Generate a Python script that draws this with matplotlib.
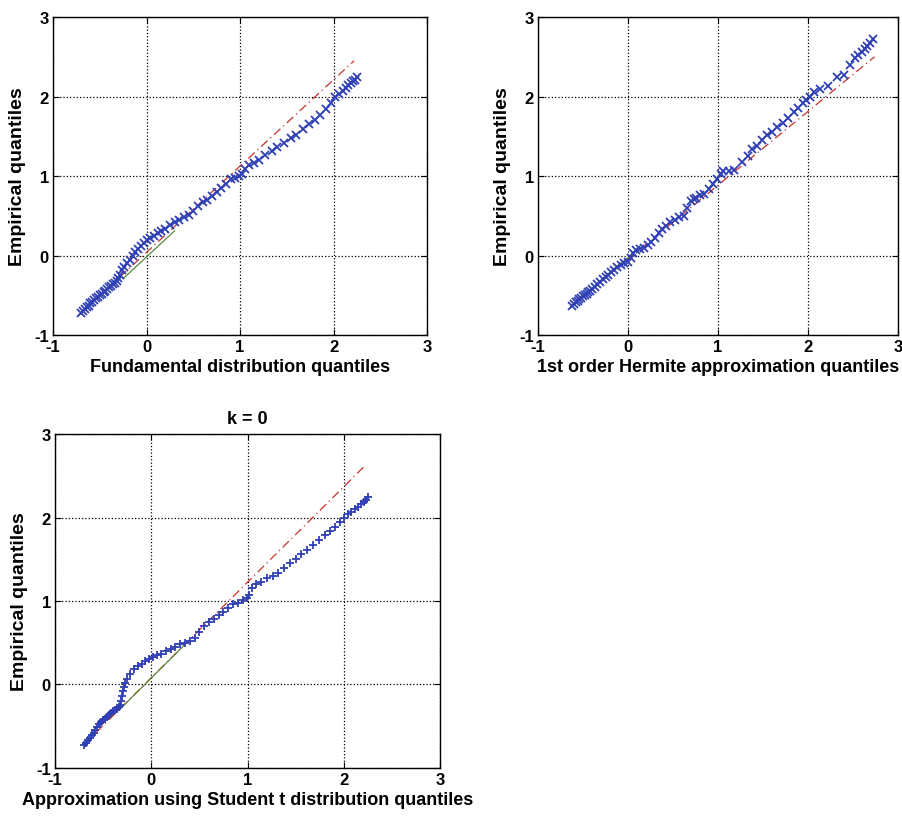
import matplotlib
matplotlib.use("Agg")
import matplotlib.pyplot as plt

plt.rcParams['font.family'] = ['Liberation Sans', 'DejaVu Sans']
plt.rcParams['font.weight'] = 'bold'
plt.rcParams['axes.unicode_minus'] = False

# panel 1: fundamental distribution
fund_x = [-0.70, -0.68, -0.66, -0.64, -0.62, -0.60, -0.58, -0.56, -0.54, -0.52, -0.50,
          -0.48, -0.46, -0.44, -0.42, -0.40, -0.38, -0.36, -0.34, -0.32, -0.30, -0.28,
          -0.26, -0.24, -0.21, -0.18, -0.15, -0.12, -0.09, -0.06, -0.03, 0.00, 0.04,
          0.08, 0.12, 0.16, 0.20, 0.25, 0.30, 0.35, 0.40, 0.45, 0.50, 0.55, 0.60, 0.65,
          0.70, 0.75, 0.80, 0.85, 0.90, 0.95, 0.99, 1.02, 1.05, 1.10, 1.15, 1.20, 1.27,
          1.34, 1.40, 1.47, 1.54, 1.60, 1.67, 1.74, 1.80, 1.86, 1.92, 1.97, 2.02, 2.06,
          2.10, 2.13, 2.16, 2.19, 2.21, 2.23, 2.25]
fund_y = [-0.72, -0.70, -0.67, -0.65, -0.63, -0.60, -0.58, -0.56, -0.54, -0.52, -0.50,
          -0.48, -0.46, -0.44, -0.42, -0.40, -0.38, -0.36, -0.34, -0.32, -0.28, -0.24,
          -0.18, -0.14, -0.10, -0.05, 0.00, 0.04, 0.08, 0.12, 0.16, 0.19, 0.22, 0.25,
          0.28, 0.31, 0.34, 0.38, 0.42, 0.45, 0.48, 0.51, 0.56, 0.62, 0.67, 0.70, 0.75,
          0.80, 0.85, 0.90, 0.96, 0.98, 1.00, 1.03, 1.09, 1.14, 1.17, 1.20, 1.26, 1.31,
          1.36, 1.42, 1.48, 1.52, 1.59, 1.66, 1.71, 1.77, 1.84, 1.92, 1.99, 2.03, 2.07,
          2.11, 2.14, 2.17, 2.19, 2.21, 2.25]

# panel 2: 1st order Hermite approximation
herm_x = [-0.62, -0.60, -0.58, -0.56, -0.54, -0.52, -0.50, -0.48, -0.46, -0.44, -0.42,
          -0.40, -0.37, -0.34, -0.31, -0.28, -0.25, -0.22, -0.19, -0.16, -0.12, -0.08,
          -0.04, 0.00, 0.03, 0.06, 0.09, 0.13, 0.18, 0.22, 0.26, 0.30, 0.34, 0.38, 0.42,
          0.47, 0.52, 0.57, 0.62, 0.66, 0.70, 0.73, 0.76, 0.80, 0.85, 0.90, 0.95, 0.99,
          1.03, 1.06, 1.12, 1.18, 1.27, 1.33, 1.38, 1.43, 1.49, 1.54, 1.60, 1.66, 1.72,
          1.78, 1.84, 1.89, 1.94, 1.98, 2.02, 2.07, 2.13, 2.22, 2.32, 2.40, 2.47, 2.52,
          2.56, 2.60, 2.63, 2.66, 2.69, 2.72]
herm_y = [-0.63, -0.61, -0.59, -0.57, -0.55, -0.53, -0.51, -0.50, -0.48, -0.46, -0.44,
          -0.42, -0.39, -0.36, -0.33, -0.30, -0.27, -0.24, -0.21, -0.18, -0.15, -0.12,
          -0.10, -0.08, -0.03, 0.03, 0.07, 0.08, 0.10, 0.13, 0.17, 0.22, 0.28, 0.33, 0.37,
          0.42, 0.45, 0.48, 0.50, 0.60, 0.69, 0.71, 0.73, 0.76, 0.78, 0.84, 0.90, 0.96,
          1.03, 1.06, 1.06, 1.07, 1.18, 1.25, 1.34, 1.38, 1.45, 1.52, 1.55, 1.62, 1.67,
          1.73, 1.80, 1.85, 1.92, 1.96, 2.00, 2.06, 2.10, 2.13, 2.24, 2.27, 2.40, 2.48,
          2.52, 2.56, 2.60, 2.63, 2.67, 2.72]

# panel 3: Student t approximation
stud_x = [-0.70, -0.68, -0.66, -0.64, -0.62, -0.60, -0.58, -0.56, -0.54, -0.52, -0.50,
          -0.48, -0.46, -0.44, -0.42, -0.40, -0.38, -0.36, -0.34, -0.32, -0.31, -0.30,
          -0.29, -0.28, -0.27, -0.25, -0.22, -0.18, -0.14, -0.10, -0.06, -0.02, 0.02,
          0.06, 0.10, 0.15, 0.20, 0.25, 0.30, 0.35, 0.40, 0.45, 0.50, 0.55, 0.60, 0.65,
          0.70, 0.75, 0.80, 0.85, 0.90, 0.95, 0.99, 1.02, 1.05, 1.09, 1.14, 1.20, 1.26,
          1.32, 1.38, 1.44, 1.50, 1.56, 1.62, 1.68, 1.74, 1.80, 1.86, 1.91, 1.96, 2.00,
          2.04, 2.08, 2.12, 2.15, 2.18, 2.21, 2.23, 2.25]
stud_y = [-0.73, -0.70, -0.67, -0.64, -0.61, -0.58, -0.55, -0.51, -0.47, -0.45, -0.43,
          -0.41, -0.39, -0.36, -0.34, -0.32, -0.30, -0.29, -0.27, -0.25, -0.20, -0.14,
          -0.08, -0.03, 0.02, 0.07, 0.13, 0.18, 0.22, 0.25, 0.28, 0.31, 0.33, 0.35, 0.37,
          0.40, 0.43, 0.45, 0.48, 0.50, 0.52, 0.56, 0.63, 0.70, 0.75, 0.78, 0.83, 0.87,
          0.92, 0.96, 0.98, 1.01, 1.03, 1.07, 1.16, 1.20, 1.23, 1.27, 1.30, 1.34, 1.40,
          1.45, 1.50, 1.56, 1.61, 1.67, 1.73, 1.79, 1.84, 1.89, 1.95, 2.00, 2.04, 2.07,
          2.10, 2.13, 2.16, 2.19, 2.21, 2.24]

# reference lines: (xs, ys) and the solid middle part
ref1 = ([-0.70, 2.22], [-0.72, 2.45]); mid1 = ([-0.25, 0.30], [-0.29, 0.31])
ref2 = ([-0.62, 2.74], [-0.62, 2.50]); mid2 = ([-0.25, 0.10], [-0.26, 0.07])
ref3 = ([-0.70, 2.22], [-0.72, 2.62]); mid3 = ([-0.32, 0.35], [-0.29, 0.48])

xlabels = ['Fundamental distribution quantiles',
           '1st order Hermite approximation quantiles',
           'Approximation using Student t distribution quantiles']

blue = '#2f3fb4'
red = '#c8312b'
green = '#5a8a3a'

fig = plt.figure(figsize=(9.02, 8.2), dpi=100)
ax1 = fig.add_axes([0.0588, 0.5902, 0.4146, 0.3878])
ax2 = fig.add_axes([0.5965, 0.5902, 0.3990, 0.3878])
ax3 = fig.add_axes([0.0610, 0.0622, 0.4268, 0.4073])

panels = [(ax1, fund_x, fund_y, ref1, mid1, 'x'),
          (ax2, herm_x, herm_y, ref2, mid2, 'x'),
          (ax3, stud_x, stud_y, ref3, mid3, '+')]

for i, (ax, xs, ys, ref, mid, mk) in enumerate(panels):
    ax.plot(ref[0], ref[1], color=red, lw=0.9, ls=(0, (7, 3, 1, 3)), zorder=2)
    ax.plot(mid[0], mid[1], color=green, lw=0.9, zorder=2)
    ax.plot(xs, ys, ls='none', marker=mk, ms=6, mew=1.3, color=blue, zorder=3)
    ax.set_xlim(-1, 3)
    ax.set_ylim(-1, 3)
    ax.set_xticks([-1, 0, 1, 2, 3])
    ax.set_yticks([-1, 0, 1, 2, 3])
    ax.grid(True, color='black', ls=':', lw=0.9)
    ax.tick_params(direction='in', top=True, right=True, length=4, labelsize=12, pad=3)
    for lab in ax.get_xticklabels() + ax.get_yticklabels():
        lab.set_fontweight('bold')
    for sp in ax.spines.values():
        sp.set_linewidth(1.0)
    ax.set_xlabel(xlabels[i], fontsize=13, fontweight='bold', labelpad=3)
    ax.set_ylabel('Empirical quantiles', fontsize=14, fontweight='bold', labelpad=6)

ax3.set_title('k = 0', fontsize=13, fontweight='bold', pad=8)

fig.savefig('out.png', dpi=100)
